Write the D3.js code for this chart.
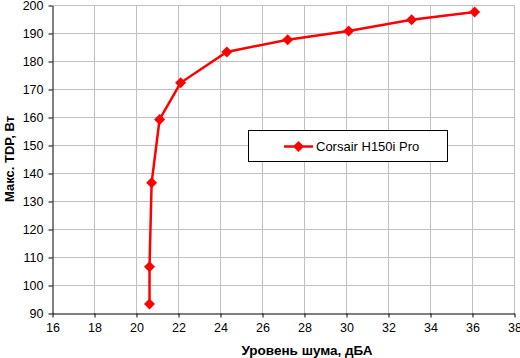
<!DOCTYPE html>
<html><head><meta charset="utf-8">
<script src="https://cdn.jsdelivr.net/npm/d3@7"></script>
<style>body{margin:0;background:#fff}svg{display:block}text{font-family:Arial,"Liberation Sans",sans-serif}</style>
</head><body>
<script>
const noise = [20.62, 20.62, 20.72, 21.1, 22.1, 24.3, 27.2, 30.1, 33.1, 36.1];
const tdp = [93.4, 106.7, 136.7, 159.3, 172.4, 183.4, 187.8, 190.9, 194.9, 197.7];
const xTicks = [16,18,20,22,24,26,28,30,32,34,36,38];
const yTicks = [90,100,110,120,130,140,150,160,170,180,190,200];
const seriesName = "Corsair H150i Pro";
const xTitle = "Уровень шума, дБА";
const yTitle = "Макс. TDP, Вт";

const W=520,H=358;
const svg=d3.select("body").append("svg").attr("width",W).attr("height",H);
const x=d3.scaleLinear().domain([16,38]).range([52.5,514.5]);
const y=d3.scaleLinear().domain([90,200]).range([313.5,5.5]);

// grid
svg.append("g").selectAll("line").data(xTicks.slice(1)).join("line")
  .attr("x1",d=>x(d)).attr("x2",d=>x(d)).attr("y1",y(200)).attr("y2",y(90))
  .attr("stroke","#c0c0c0").attr("stroke-width",1);
svg.append("g").selectAll("line").data(yTicks.slice(1)).join("line")
  .attr("x1",x(16)).attr("x2",x(38)).attr("y1",d=>y(d)).attr("y2",d=>y(d))
  .attr("stroke","#c0c0c0").attr("stroke-width",1);

// axes
const xa=svg.append("g").attr("transform",`translate(0,${y(90)})`)
  .call(d3.axisBottom(x).tickValues(xTicks).tickSize(4).tickSizeOuter(0).tickPadding(6));
const ya=svg.append("g").attr("transform",`translate(${x(16)},0)`)
  .call(d3.axisLeft(y).tickValues(yTicks).tickSize(4).tickSizeOuter(0).tickPadding(5));
[xa,ya].forEach(a=>{a.selectAll("path,line").attr("stroke","#000");a.selectAll("text").attr("font-size",12.5).attr("fill","#000").attr("font-family","Arial, 'Liberation Sans', sans-serif");});

// line
svg.append("path").datum(noise.map((v,i)=>[v,tdp[i]]))
  .attr("d",d3.line().x(d=>x(d[0])).y(d=>y(d[1])))
  .attr("fill","none").attr("stroke","#ff0000").attr("stroke-width",2.5);
const diamond="M0,-5.5L5.5,0L0,5.5L-5.5,0Z";
svg.append("g").selectAll("path").data(noise.map((v,i)=>[v,tdp[i]])).join("path")
  .attr("transform",d=>`translate(${x(d[0])},${y(d[1])})`).attr("d",diamond).attr("fill","#ff0000");

// legend
const lg=svg.append("g");
lg.append("rect").attr("x",248.5).attr("y",130.5).attr("width",199).attr("height",31).attr("fill","#fff").attr("stroke","#000");
lg.append("line").attr("x1",284).attr("x2",313).attr("y1",146.5).attr("y2",146.5).attr("stroke","#ff0000").attr("stroke-width",2.5);
lg.append("path").attr("transform","translate(298.5,146.5)").attr("d",diamond).attr("fill","#ff0000");
lg.append("text").attr("x",316).attr("y",151).attr("font-size",13).text(seriesName);

// titles
svg.append("text").attr("x",307).attr("y",355).attr("text-anchor","middle").attr("font-size",13.5).attr("font-weight","bold").text(xTitle);
svg.append("text").attr("transform","translate(14,159) rotate(-90)").attr("text-anchor","middle").attr("font-size",13).attr("font-weight","bold").text(yTitle);
</script>
</body></html>
